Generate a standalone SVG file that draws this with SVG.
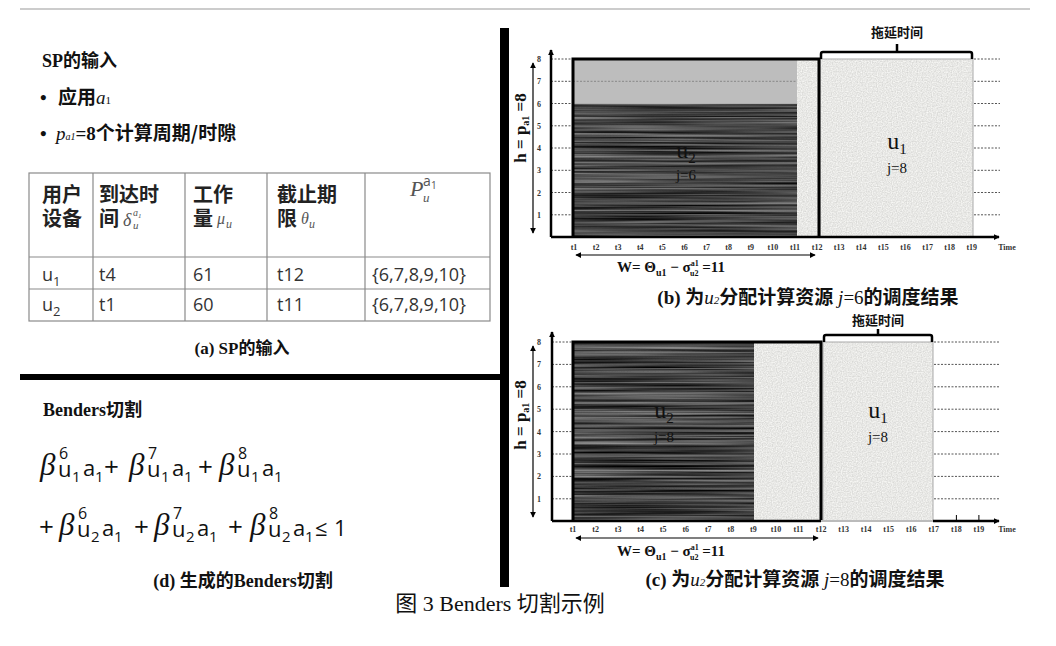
<svg xmlns="http://www.w3.org/2000/svg" width="1056" height="646" viewBox="0 0 1056 646">
<style>
.cjk{font-family:"Liberation Serif","Noto Sans CJK SC",serif;font-weight:bold;fill:#111}
.hd{font-family:"Noto Sans CJK SC",sans-serif;font-weight:bold;font-size:20px;fill:#222}
.cell{font-family:"Open Sans","Liberation Sans",sans-serif;font-size:18px;fill:#333}
.mathi{font-family:"Liberation Serif",serif;font-style:italic;fill:#555}
.fm{font-family:"Open Sans","DejaVu Sans",sans-serif;font-size:22px;fill:#111}
.fm .b{font-family:"Liberation Serif",serif;font-style:italic;font-size:31px}
.fm .sp{font-size:16px}
.fm .sb{font-size:15px}
.fm .pl{font-size:26px}
.tk{font-family:"Liberation Serif",serif;font-weight:bold;font-size:8px;fill:#333;text-anchor:middle}
.dash{stroke:#555;stroke-width:1;stroke-dasharray:2 1.5;fill:none}
.ax{stroke:#000;stroke-width:2.5;fill:none}
.thin{stroke:#000;stroke-width:1.2;fill:none}
.lbl{font-family:"Liberation Serif",serif;fill:#111}
.tbl{stroke:#8a8a8a;stroke-width:1.2;fill:none}
</style>
<defs>
<marker id="arr" viewBox="0 0 8 8" refX="7" refY="4" markerWidth="6" markerHeight="6" orient="auto-start-reverse" markerUnits="userSpaceOnUse"><path d="M0,0 L8,4 L0,8 z" fill="#000"/></marker>
<filter id="stip" x="0" y="0" width="1" height="1" color-interpolation-filters="sRGB">
<feTurbulence type="fractalNoise" baseFrequency="0.8" numOctaves="1" seed="2"/>
<feColorMatrix type="matrix" values="0.22 0 0 0 0.8 0.22 0 0 0 0.8 0.22 0 0 0 0.79 0 0 0 0 1"/>
<feComposite in2="SourceAlpha" operator="in"/>
</filter>
<filter id="streak" x="0" y="0" width="1" height="1" color-interpolation-filters="sRGB">
<feTurbulence type="fractalNoise" baseFrequency="0.004 0.4" numOctaves="3" seed="5"/>
<feColorMatrix type="matrix" values="0.8 0 0 0 -0.13 0.8 0 0 0 -0.13 0.8 0 0 0 -0.13 0 0 0 0 1"/>
<feComposite in2="SourceAlpha" operator="in"/>
</filter>
</defs>
<rect width="1056" height="646" fill="#fff"/>

<g id="frame">
<line x1="20" y1="9" x2="1030" y2="9" stroke="#bbb" stroke-width="1.5"/>
<rect x="500" y="28" width="9" height="559" fill="#000"/>
<rect x="20" y="374" width="485" height="6" fill="#000"/>
</g>

<g id="sp-input">
<text class="cjk" x="42" y="67" font-size="18">SP的输入</text>
<text class="cjk" x="40" y="104" font-size="19">•<tspan x="58" font-family="Noto Sans CJK SC">应用</tspan><tspan font-family="Liberation Serif" font-style="italic" font-weight="normal">a</tspan><tspan font-size="11" font-weight="normal">1</tspan></text>
<text class="cjk" x="40" y="140" font-size="19">•<tspan x="56" font-family="Liberation Serif" font-style="italic" font-weight="normal">p</tspan><tspan font-size="10" font-style="italic" font-weight="normal">a1</tspan><tspan>=8</tspan><tspan font-family="Noto Sans CJK SC">个计算周期/时隙</tspan></text>
</g>

<g id="table">
<rect x="29" y="173" width="461" height="148" class="tbl"/>
<path class="tbl" d="M93,173V321 M185,173V321 M267,173V321 M365,173V321 M29,257H490 M29,289H490"/>
<text class="hd" x="42" y="202">用户</text>
<text class="hd" x="42" y="226">设备</text>
<text class="hd" x="99" y="202">到达时</text>
<text class="hd" x="99" y="226">间<tspan class="mathi" x="123" font-size="18" font-weight="normal">δ</tspan><tspan class="mathi" x="133" y="216" font-size="10" font-weight="normal">a</tspan><tspan class="mathi" x="138" y="218" font-size="7" font-weight="normal">1</tspan><tspan class="mathi" x="133" y="229" font-size="11" font-weight="normal">u</tspan></text>
<text class="hd" x="193" y="202">工作</text>
<text class="hd" x="193" y="226">量<tspan class="mathi" x="217" y="224" font-size="16" font-weight="normal">μ</tspan><tspan class="mathi" x="226" y="228" font-size="12" font-weight="normal">u</tspan></text>
<text class="hd" x="277" y="202">截止期</text>
<text class="hd" x="277" y="226">限<tspan class="mathi" x="301" y="224" font-size="16" font-weight="normal">θ</tspan><tspan class="mathi" x="309" y="228" font-size="12" font-weight="normal">u</tspan></text>
<text class="mathi" x="410" y="196" font-size="22">P<tspan x="423" y="186" font-family="Open Sans,sans-serif" font-style="normal" font-size="14">a</tspan><tspan x="431" y="189" font-family="Open Sans,sans-serif" font-style="normal" font-size="10">1</tspan><tspan x="423" y="202" font-size="13">u</tspan></text>
<text class="cell" x="42" y="281">u<tspan font-size="13" dy="5">1</tspan></text>
<text class="cell" x="99" y="281">t4</text>
<text class="cell" x="193" y="281">61</text>
<text class="cell" x="277" y="281">t12</text>
<text class="cell" x="372" y="281">{6,7,8,9,10}</text>
<text class="cell" x="42" y="311">u<tspan font-size="13" dy="5">2</tspan></text>
<text class="cell" x="99" y="311">t1</text>
<text class="cell" x="193" y="311">60</text>
<text class="cell" x="277" y="311">t11</text>
<text class="cell" x="372" y="311">{6,7,8,9,10}</text>
<text class="cjk" x="242" y="354" font-size="17" text-anchor="middle">(a) SP的输入</text>
</g>

<g id="benders">
<text class="cjk" x="43" y="416" font-size="18">Benders切割</text>
<text class="fm" id="line1"><tspan class="b" x="40" y="475">β</tspan><tspan class="sp" x="59" y="459">6</tspan><tspan x="58" y="477">u</tspan><tspan class="sb" x="72" y="482">1</tspan><tspan x="83" y="476">a</tspan><tspan class="sb" x="95" y="482">1</tspan><tspan class="pl" x="104" y="476">+</tspan><tspan class="b" x="129" y="475">β</tspan><tspan class="sp" x="148" y="459">7</tspan><tspan x="147" y="477">u</tspan><tspan class="sb" x="161" y="482">1</tspan><tspan x="172" y="476">a</tspan><tspan class="sb" x="184" y="482">1</tspan><tspan class="pl" x="198" y="476">+</tspan><tspan class="b" x="219" y="475">β</tspan><tspan class="sp" x="238" y="459">8</tspan><tspan x="237" y="477">u</tspan><tspan class="sb" x="251" y="482">1</tspan><tspan x="262" y="476">a</tspan><tspan class="sb" x="274" y="482">1</tspan></text>
<text class="fm" id="line2"><tspan class="pl" x="39" y="536">+</tspan><tspan class="b" x="59" y="535">β</tspan><tspan class="sp" x="78" y="519">6</tspan><tspan x="77" y="537">u</tspan><tspan class="sb" x="91" y="542">2</tspan><tspan x="102" y="536">a</tspan><tspan class="sb" x="114" y="542">1</tspan><tspan class="pl" x="134" y="536">+</tspan><tspan class="b" x="154" y="535">β</tspan><tspan class="sp" x="173" y="519">7</tspan><tspan x="172" y="537">u</tspan><tspan class="sb" x="186" y="542">2</tspan><tspan x="197" y="536">a</tspan><tspan class="sb" x="209" y="542">1</tspan><tspan class="pl" x="228" y="536">+</tspan><tspan class="b" x="250" y="535">β</tspan><tspan class="sp" x="269" y="519">8</tspan><tspan x="268" y="537">u</tspan><tspan class="sb" x="282" y="542">2</tspan><tspan x="293" y="536">a</tspan><tspan class="sb" x="305" y="542">1</tspan><tspan x="315" y="536">≤</tspan><tspan x="334" y="536">1</tspan></text>
<text class="cjk" x="243" y="587" font-size="18" text-anchor="middle">(d)  生成的Benders切割</text>
</g>

<g id="chart-b">
<rect x="573" y="103.5" width="224" height="133.5" fill="#333" filter="url(#streak)"/>
<rect x="573" y="59" width="224" height="44.5" fill="#bdbdbd"/>
<line x1="573" y1="81.3" x2="797" y2="81.3" stroke="#888" stroke-width="1" stroke-dasharray="2 1.5"/>
<rect x="797" y="59" width="22" height="178" fill="#e6e6e2" filter="url(#stip)"/>
<rect x="820" y="59" width="153" height="178" fill="#e6e6e2" filter="url(#stip)"/>
<rect x="820" y="59" width="153" height="178" fill="none" stroke="#aaa" stroke-width="1"/>
<path class="dash" d="M551,59H573 M551,81.3H573 M551,103.5H573 M551,125.8H573 M551,148H573 M551,170.3H573 M551,192.5H573 M551,214.8H573 M974,59H1000 M974,81.3H1000 M974,103.5H1000 M974,125.8H1000 M974,148H1000 M974,170.3H1000 M974,192.5H1000 M974,214.8H1000"/>
<path d="M573,237V59H819V237" fill="none" stroke="#000" stroke-width="3"/>
<path class="ax" d="M551,237V50" marker-end="url(#arr)"/>
<path class="ax" d="M551,237H999" marker-end="url(#arr)"/>
<path class="thin" d="M533,63V233" marker-start="url(#arr)" marker-end="url(#arr)"/>
<text class="lbl" font-size="17" font-weight="bold" transform="translate(526,128) rotate(-90)" text-anchor="middle">h = p<tspan font-size="10" dy="3">a1</tspan><tspan dy="-3"> =8</tspan></text>
<g class="tk">
<text x="539" y="62">8</text><text x="539" y="84.3">7</text><text x="539" y="106.5">6</text><text x="539" y="128.8">5</text><text x="539" y="151">4</text><text x="539" y="173.3">3</text><text x="539" y="195.5">2</text><text x="539" y="217.8">1</text>
<text x="574" y="250">t1</text><text x="596.1" y="250">t2</text><text x="618.2" y="250">t3</text><text x="640.3" y="250">t4</text><text x="662.4" y="250">t5</text><text x="684.5" y="250">t6</text><text x="706.6" y="250">t7</text><text x="728.7" y="250">t8</text><text x="750.8" y="250">t9</text><text x="772.9" y="250">t10</text><text x="795" y="250">t11</text><text x="817.1" y="250">t12</text><text x="839.2" y="250">t13</text><text x="861.3" y="250">t14</text><text x="883.4" y="250">t15</text><text x="905.5" y="250">t16</text><text x="927.6" y="250">t17</text><text x="949.7" y="250">t18</text><text x="971.8" y="250">t19</text><text x="1007" y="250">Time</text>
</g>
<path class="thin" d="M576,255H815" marker-start="url(#arr)" marker-end="url(#arr)"/>
<text class="lbl" x="617" y="272" font-size="15" font-weight="bold">W= Θ<tspan font-size="10" dy="4">u1</tspan><tspan dy="-4"> − σ</tspan><tspan font-size="8" dy="-6">a1</tspan><tspan font-size="8" x="690" dy="10">u2</tspan><tspan dy="-4"> =11</tspan></text>
<text class="lbl" x="686" y="158" font-size="24" fill="#eee" text-anchor="middle">u<tspan font-size="15" dy="5">2</tspan></text>
<text class="lbl" x="686" y="180" font-size="15" fill="#ddd" text-anchor="middle">j=6</text>
<text class="lbl" x="897" y="149" font-size="24" fill="#333" text-anchor="middle">u<tspan font-size="15" dy="5">1</tspan></text>
<text class="lbl" x="897" y="173" font-size="15" fill="#444" text-anchor="middle">j=8</text>
<path d="M821,59V54Q821,52 823,52H970Q972,52 972,54V59 M897,52V44" fill="none" stroke="#000" stroke-width="2.5"/>
<text x="897" y="37" font-family="Noto Sans CJK SC,sans-serif" font-weight="bold" font-size="13" text-anchor="middle" fill="#111">拖延时间</text>
<text class="cjk" x="808" y="304" font-size="19" text-anchor="middle">(b)  为<tspan font-style="italic" font-weight="normal">u</tspan><tspan font-size="11" font-style="italic" font-weight="normal">2</tspan>分配计算资源 <tspan font-style="italic" font-weight="normal">j</tspan><tspan font-weight="normal">=6</tspan>的调度结果</text>
</g>

<g id="chart-c">
<rect x="573" y="342" width="181" height="179" fill="#333" filter="url(#streak)"/>
<rect x="754" y="342" width="67" height="179" fill="#e6e6e2" filter="url(#stip)"/>
<rect x="823" y="342" width="110" height="179" fill="#e6e6e2" filter="url(#stip)"/>
<rect x="823" y="342" width="110" height="179" fill="none" stroke="#aaa" stroke-width="1"/>
<path class="dash" d="M552,342H573 M552,364.4H573 M552,386.8H573 M552,409.2H573 M552,431.6H573 M552,454H573 M552,476.4H573 M552,498.8H573 M934,342H1000 M934,364.4H1000 M934,386.8H1000 M934,409.2H1000 M934,431.6H1000 M934,454H1000 M934,476.4H1000 M934,498.8H1000"/>
<path d="M573,521V342H821V521" fill="none" stroke="#000" stroke-width="3"/>
<path class="ax" d="M552,521V332" marker-end="url(#arr)"/>
<path class="ax" d="M552,521H821"/>
<line x1="821" y1="521" x2="933" y2="521" stroke="#bbb" stroke-width="2"/>
<path class="ax" d="M933,521H999" marker-end="url(#arr)"/>
<path d="M956.4,521V515 M978.9,521V515" stroke="#000" stroke-width="1"/>
<path class="thin" d="M533,346V517" marker-start="url(#arr)" marker-end="url(#arr)"/>
<text class="lbl" font-size="17" font-weight="bold" transform="translate(526,415) rotate(-90)" text-anchor="middle">h = p<tspan font-size="10" dy="3">a1</tspan><tspan dy="-3"> =8</tspan></text>
<g class="tk">
<text x="539" y="345">8</text><text x="539" y="367.4">7</text><text x="539" y="389.8">6</text><text x="539" y="412.2">5</text><text x="539" y="434.6">4</text><text x="539" y="457">3</text><text x="539" y="479.4">2</text><text x="539" y="501.8">1</text>
<text x="573" y="532">t1</text><text x="595.6" y="532">t2</text><text x="618.1" y="532">t3</text><text x="640.7" y="532">t4</text><text x="663.2" y="532">t5</text><text x="685.8" y="532">t6</text><text x="708.3" y="532">t7</text><text x="730.9" y="532">t8</text><text x="753.4" y="532">t9</text><text x="776" y="532">t10</text><text x="798.5" y="532">t11</text><text x="821.1" y="532">t12</text><text x="843.6" y="532">t13</text><text x="866.2" y="532">t14</text><text x="888.7" y="532">t15</text><text x="911.3" y="532">t16</text><text x="933.8" y="532">t17</text><text x="956.4" y="532">t18</text><text x="978.9" y="532">t19</text><text x="1007" y="532">Time</text>
</g>
<path class="thin" d="M576,538H818" marker-start="url(#arr)" marker-end="url(#arr)"/>
<text class="lbl" x="617" y="556" font-size="15" font-weight="bold">W= Θ<tspan font-size="10" dy="4">u1</tspan><tspan dy="-4"> − σ</tspan><tspan font-size="8" dy="-6">a1</tspan><tspan font-size="8" x="690" dy="10">u2</tspan><tspan dy="-4"> =11</tspan></text>
<text class="lbl" x="664" y="418" font-size="24" fill="#eee" text-anchor="middle">u<tspan font-size="15" dy="5">2</tspan></text>
<text class="lbl" x="664" y="442" font-size="15" fill="#ddd" text-anchor="middle">j=8</text>
<text class="lbl" x="878" y="418" font-size="24" fill="#333" text-anchor="middle">u<tspan font-size="15" dy="5">1</tspan></text>
<text class="lbl" x="878" y="442" font-size="15" fill="#444" text-anchor="middle">j=8</text>
<path d="M824,342V337Q824,335 826,335H930Q932,335 932,337V342 M878,335V329" fill="none" stroke="#000" stroke-width="2.5"/>
<text x="878" y="325" font-family="Noto Sans CJK SC,sans-serif" font-weight="bold" font-size="13" text-anchor="middle" fill="#111">拖延时间</text>
<text class="cjk" x="795" y="586" font-size="19" text-anchor="middle">(c)  为<tspan font-style="italic" font-weight="normal">u</tspan><tspan font-size="11" font-style="italic" font-weight="normal">2</tspan>分配计算资源 <tspan font-style="italic" font-weight="normal">j</tspan><tspan font-weight="normal">=8</tspan>的调度结果</text>
</g>

<text id="caption" x="500" y="611" font-family="Liberation Serif,Noto Sans CJK SC,serif" font-size="22" text-anchor="middle" fill="#111">图 3 Benders 切割示例</text>
</svg>
